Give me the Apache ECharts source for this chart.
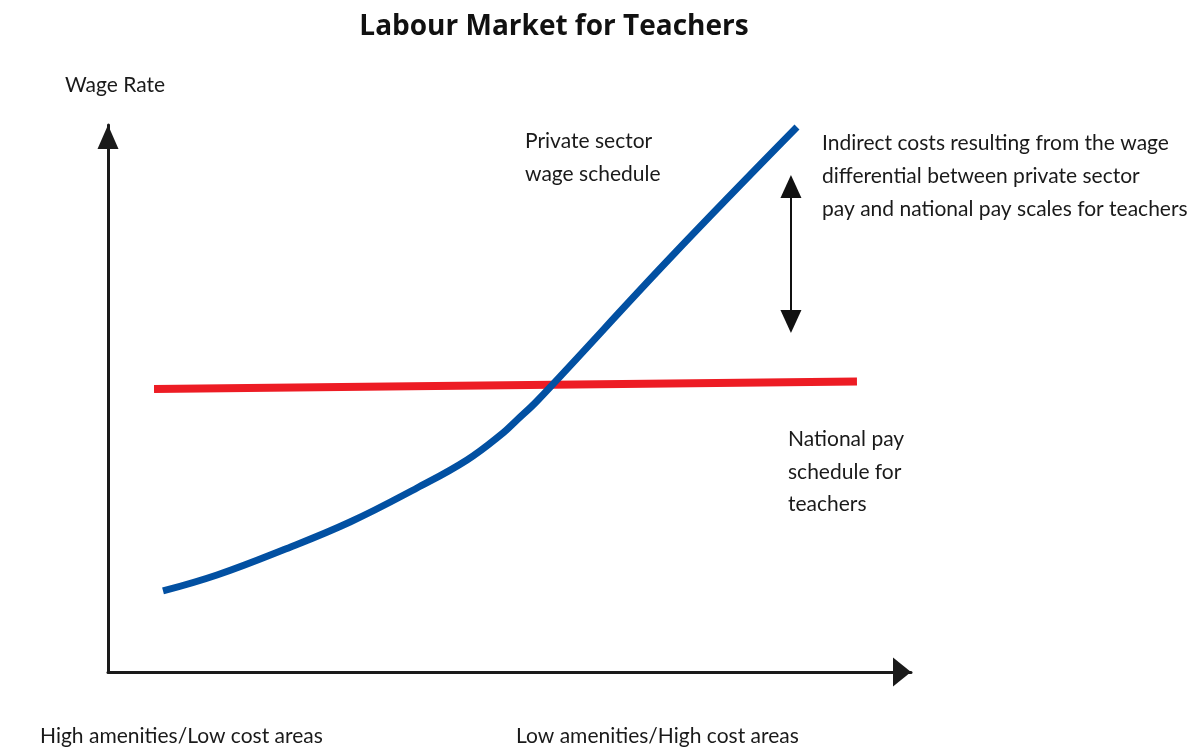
<!DOCTYPE html>
<html>
<head>
<meta charset="utf-8">
<title>Labour Market for Teachers</title>
<script src="https://cdn.jsdelivr.net/npm/echarts@6/dist/echarts.min.js"></script>
<style>
  html, body { margin: 0; padding: 0; background: #fff; }
  #chart { width: 1200px; height: 749px; }
</style>
</head>
<body>
<div id="chart"></div>
<script>
// 数据: 坐标单位 0-100
const privateX = [6.85, 13.57, 21.79, 30.14, 38.48, 44.71, 49.19, 50.93, 53.55, 70.0, 85.8]
const privateY = [14.81, 17.73, 22.3, 27.42, 33.64, 38.76, 43.69, 46.07, 49.73, 75.69, 99.63]
const nationalX = [5.73, 93.27]
const nationalY = [51.74, 53.11]
// 双向箭头 (x, y起点, y终点)
const gapX = 85.05
const gapY = [88.76, 64.08]

const font = 'Lato, sans-serif'
const sx = 0.955
const txt = (x, y, text) => ({
  type: 'text',
  x: x,
  y: y,
  scaleX: sx,
  style: { text: text, font: '22px ' + font, fill: '#1a1a1a' }
})

const chart = echarts.init(document.getElementById('chart'))
chart.setOption({
  animation: false,
  grid: { left: 108, right: 289, top: 125, bottom: 77 },
  xAxis: {
    type: 'value', min: 0, max: 100,
    axisLine: {
      onZero: false,
      symbol: ['none', 'triangle'], symbolSize: [29, 18], symbolOffset: [0, -9],
      lineStyle: { color: '#1a1a1a', width: 3 }
    },
    axisTick: { show: false }, axisLabel: { show: false }, splitLine: { show: false }
  },
  yAxis: {
    type: 'value', min: 0, max: 100,
    axisLine: {
      show: true, onZero: false,
      symbol: ['none', 'triangle'], symbolSize: [21, 24], symbolOffset: [0, -12],
      lineStyle: { color: '#1a1a1a', width: 3 }
    },
    axisTick: { show: false }, axisLabel: { show: false }, splitLine: { show: false }
  },
  series: [
    {
      name: 'National pay schedule',
      type: 'line',
      data: nationalX.map((x, i) => [x, nationalY[i]]),
      symbol: 'none',
      lineStyle: { color: '#ed1c24', width: 8, cap: 'butt' },
      silent: true
    },
    {
      name: 'Private sector wage schedule',
      type: 'line',
      data: privateX.map((x, i) => [x, privateY[i]]),
      smooth: 0.4,
      symbol: 'none',
      lineStyle: { color: '#0250a2', width: 7, cap: 'butt' },
      silent: true,
      markLine: {
        silent: true,
        symbol: ['triangle', 'triangle'],
        symbolSize: [21, 23],
        label: { show: false },
        lineStyle: { color: '#111', width: 2, type: 'solid' },
        data: [[{ coord: [gapX, gapY[0]] }, { coord: [gapX, gapY[1]] }]]
      }
    }
  ],
  graphic: [
    {
      type: 'text', x: 554, y: 13,
      style: {
        text: 'Labour Market for Teachers', align: 'center',
        font: 'bold 28px "Open Sans", sans-serif', fill: '#111'
      }
    },
    txt(65, 74, 'Wage Rate'),
    txt(525, 130, 'Private sector'),
    txt(525, 163, 'wage schedule'),
    txt(822, 132, 'Indirect costs resulting from the wage'),
    txt(822, 165, 'differential between private sector'),
    txt(822, 198, 'pay and national pay scales for teachers'),
    txt(788, 428, 'National pay'),
    txt(788, 461, 'schedule for'),
    txt(788, 493, 'teachers'),
    txt(40, 725, 'High amenities/Low cost areas'),
    txt(516, 725, 'Low amenities/High cost areas')
  ]
})
</script>
</body>
</html>
